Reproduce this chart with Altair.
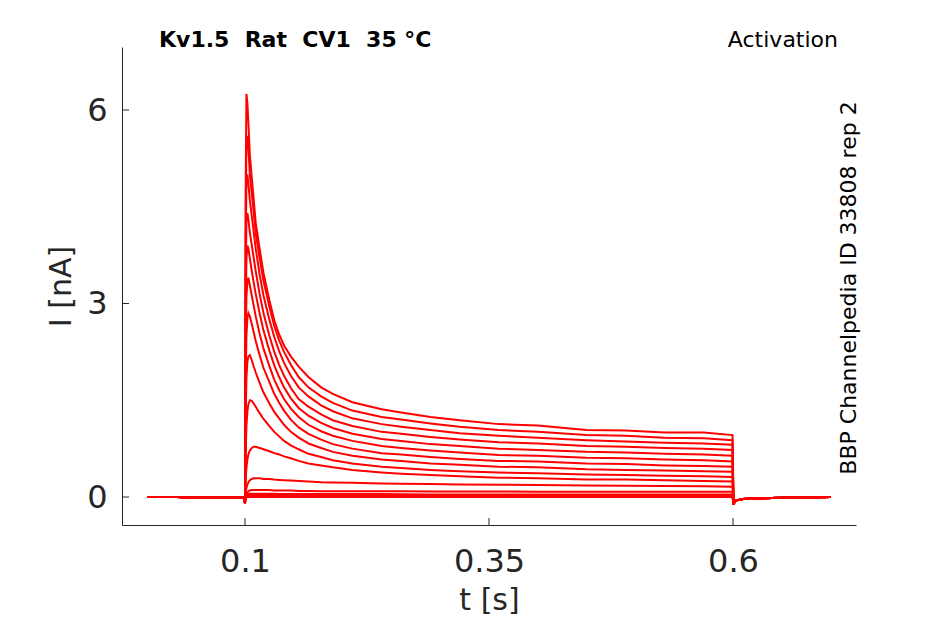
import altair as alt
import pandas as pd

# time points (s)
T = [0.0, 0.03, 0.06, 0.0995, 0.1000,
     0.1008, 0.1015, 0.1025, 0.1035, 0.105, 0.107, 0.109, 0.111, 0.115, 0.119, 0.125, 0.130,
     0.135, 0.140, 0.147, 0.155, 0.165, 0.178, 0.19, 0.21, 0.24, 0.26, 0.29, 0.32, 0.36,
     0.40, 0.45, 0.49, 0.53, 0.57, 0.5995,
     0.6005, 0.602, 0.61, 0.65, 0.70]

# current traces (nA), one list per voltage step
PRE = [0.0, 0.0, -0.01, 0.0, -0.1]
POST = [-0.12, -0.06, -0.03, -0.01, 0.0]
I00 = PRE + [5.0, 6.25, 6.1, 5.8, 5.3, 4.95, 4.6, 4.25, 3.85, 3.47, 3.05, 2.74,
             2.52, 2.35, 2.18, 2.02, 1.86, 1.70, 1.60, 1.47, 1.36, 1.31, 1.24, 1.19, 1.13, 1.11, 1.04, 1.03, 1.00, 1.00, 0.96] + POST
I01 = PRE + [4.5, 5.5, 5.6, 5.4, 5.0, 4.7, 4.4, 4.1, 3.7, 3.35, 2.95, 2.65,
             2.43, 2.25, 2.05, 1.86, 1.70, 1.56, 1.46, 1.34, 1.24, 1.20, 1.14, 1.09, 1.04, 1.01, 0.96, 0.95, 0.92, 0.91, 0.88] + POST
I02 = PRE + [4.0, 4.9, 5.0, 4.85, 4.6, 4.35, 4.1, 3.85, 3.45, 3.12, 2.75, 2.48,
             2.26, 2.08, 1.88, 1.70, 1.56, 1.42, 1.33, 1.22, 1.13, 1.09, 1.04, 0.99, 0.95, 0.92, 0.88, 0.86, 0.84, 0.83, 0.81] + POST
I03 = PRE + [3.4, 4.3, 4.4, 4.3, 4.1, 3.9, 3.7, 3.5, 3.15, 2.85, 2.5, 2.25,
             2.05, 1.88, 1.69, 1.52, 1.40, 1.28, 1.19, 1.10, 1.01, 0.98, 0.93, 0.89, 0.85, 0.83, 0.79, 0.78, 0.76, 0.75, 0.73] + POST
I04 = PRE + [2.9, 3.7, 3.9, 3.85, 3.7, 3.5, 3.32, 3.15, 2.85, 2.58, 2.27, 2.04,
             1.86, 1.70, 1.53, 1.38, 1.26, 1.15, 1.07, 0.98, 0.90, 0.87, 0.82, 0.79, 0.75, 0.73, 0.70, 0.69, 0.67, 0.66, 0.64] + POST
I05 = PRE + [2.4, 3.1, 3.35, 3.4, 3.28, 3.12, 2.96, 2.8, 2.53, 2.3, 2.03, 1.82,
             1.66, 1.52, 1.37, 1.24, 1.12, 1.02, 0.95, 0.87, 0.79, 0.76, 0.72, 0.69, 0.65, 0.64, 0.61, 0.60, 0.58, 0.57, 0.55] + POST
I06 = PRE + [1.9, 2.5, 2.78, 2.85, 2.8, 2.68, 2.55, 2.42, 2.2, 2.0, 1.78, 1.6,
             1.46, 1.34, 1.20, 1.08, 0.98, 0.89, 0.82, 0.75, 0.68, 0.66, 0.62, 0.59, 0.56, 0.55, 0.52, 0.51, 0.49, 0.48, 0.47] + POST
I07 = PRE + [1.3, 1.85, 2.1, 2.18, 2.2, 2.12, 2.02, 1.93, 1.77, 1.62, 1.45, 1.32,
             1.22, 1.12, 1.01, 0.92, 0.83, 0.76, 0.70, 0.64, 0.58, 0.56, 0.52, 0.50, 0.47, 0.46, 0.43, 0.42, 0.41, 0.40, 0.39] + POST
I08 = PRE + [0.75, 1.1, 1.33, 1.44, 1.5, 1.49, 1.45, 1.4, 1.3, 1.21, 1.1, 1.01,
             0.94, 0.87, 0.80, 0.74, 0.67, 0.62, 0.57, 0.52, 0.47, 0.45, 0.42, 0.40, 0.38, 0.37, 0.35, 0.34, 0.33, 0.32, 0.31] + POST
I09 = PRE + [0.3, 0.45, 0.58, 0.66, 0.72, 0.76, 0.78, 0.78, 0.76, 0.74, 0.71, 0.68,
             0.66, 0.63, 0.60, 0.56, 0.52, 0.49, 0.46, 0.42, 0.38, 0.36, 0.34, 0.32, 0.30, 0.29, 0.27, 0.27, 0.26, 0.25, 0.24] + POST
I10 = PRE + [0.08, 0.14, 0.19, 0.23, 0.26, 0.28, 0.29, 0.29, 0.29, 0.28, 0.28, 0.27,
             0.265, 0.26, 0.255, 0.25, 0.24, 0.23, 0.225, 0.22, 0.21, 0.205, 0.20, 0.195, 0.19, 0.185, 0.18, 0.175, 0.17, 0.165, 0.16] + POST
I11 = PRE + [0.03, 0.05, 0.07, 0.09, 0.10, 0.11, 0.11, 0.11, 0.11, 0.11, 0.11, 0.10,
             0.10, 0.10, 0.10, 0.095, 0.093, 0.09, 0.09, 0.09, 0.09, 0.088, 0.085, 0.085, 0.085, 0.083, 0.08, 0.08, 0.08, 0.08, 0.08] + POST
I12 = PRE + [0.02, 0.03, 0.04, 0.05, 0.05, 0.05, 0.05, 0.05, 0.05, 0.05, 0.05, 0.05,
             0.045, 0.045, 0.045, 0.045, 0.045, 0.045, 0.045, 0.045, 0.045, 0.043, 0.04, 0.04, 0.04, 0.04, 0.04, 0.04, 0.04, 0.04, 0.04] + POST
I13 = PRE + [0.01, 0.02, 0.025, 0.03, 0.03, 0.03, 0.03, 0.03, 0.03, 0.03, 0.03, 0.03,
             0.03, 0.03, 0.03, 0.028, 0.026, 0.025, 0.025, 0.025, 0.025, 0.025, 0.025, 0.025, 0.025, 0.022, 0.02, 0.02, 0.02, 0.02, 0.02] + POST
I14 = PRE + [0.005, 0.01, 0.012, 0.015, 0.015, 0.015, 0.015, 0.015, 0.015, 0.015, 0.015, 0.015,
             0.015, 0.015, 0.015, 0.015, 0.012, 0.012, 0.012, 0.012, 0.012, 0.012, 0.01, 0.01, 0.01, 0.01, 0.01, 0.01, 0.01, 0.01, 0.01] + POST
I15 = PRE + [0.0, 0.0, 0.0, 0.0, 0.0, 0.0, 0.0, 0.0, 0.0, 0.0, 0.0, 0.0,
             0.0, 0.0, 0.0, 0.0, 0.0, 0.0, 0.0, 0.0, 0.0, 0.0, 0.0, 0.0, 0.0, 0.0, 0.0, 0.0, 0.0, 0.0, 0.0] + POST
TRACES = [I00, I01, I02, I03, I04, I05, I06, I07, I08, I09, I10, I11, I12, I13, I14, I15]

X_TICKS = [0.1, 0.35, 0.6]
Y_TICKS = [0, 3, 6]

rows = []
for k, tr in enumerate(TRACES):
    for t, v in zip(T, tr):
        rows.append({"trace": k, "t": t, "i": v})
df = pd.DataFrame(rows)

FONT = "DejaVu Sans"
INK = "#262626"
W, H = 734, 478
NB = "\u00a0"

xscale = alt.Scale(domain=[-0.026, 0.726], nice=False, zero=False)
yscale = alt.Scale(domain=[-0.434, 6.977], nice=False, zero=False)

xaxis = alt.Axis(values=X_TICKS, format=".2~f", grid=False, ticks=False,
                 domainColor=INK, labelFont=FONT, labelFontSize=32,
                 labelColor=INK, labelPadding=21, titleFont=FONT,
                 titleFontSize=30, titleFontWeight="normal", titleColor=INK,
                 titlePadding=8)
yaxis = alt.Axis(values=Y_TICKS, format="d", grid=False, ticks=False,
                 domainColor=INK, labelFont=FONT, labelFontSize=32,
                 labelColor=INK, labelPadding=15, titleFont=FONT,
                 titleFontSize=30, titleFontWeight="normal", titleColor=INK,
                 titlePadding=10)

lines = alt.Chart(df).mark_line(color="#ff0000", strokeWidth=2).encode(
    x=alt.X("t:Q", scale=xscale, title="t [s]", axis=xaxis),
    y=alt.Y("i:Q", scale=yscale, title="I [nA]", axis=yaxis),
    detail="trace:N",
    order="t:Q",
)

xt = alt.Chart(pd.DataFrame({"t": X_TICKS})).mark_rule(color=INK, strokeWidth=1).encode(
    x=alt.X("t:Q", scale=xscale, title="t [s]", axis=xaxis),
    y=alt.value(H), y2=alt.value(H - 7))
yt = alt.Chart(pd.DataFrame({"i": Y_TICKS})).mark_rule(color=INK, strokeWidth=1).encode(
    y=alt.Y("i:Q", scale=yscale, title="I [nA]", axis=yaxis),
    x=alt.value(0), x2=alt.value(7))

one = pd.DataFrame({"a": [0]})
title = alt.Chart(one).mark_text(
    text=f"Kv1.5{NB}{NB}Rat{NB}{NB}CV1{NB}{NB}35{NB}°C", font=FONT, fontSize=22,
    fontWeight="bold", align="left", baseline="alphabetic",
    color="#000000").encode(x=alt.value(37), y=alt.value(0))
act = alt.Chart(one).mark_text(text="Activation", font=FONT, fontSize=22, align="right",
                               baseline="alphabetic", color="#000000").encode(
    x=alt.value(716), y=alt.value(0))
side = alt.Chart(one).mark_text(text="BBP Channelpedia ID 33808 rep 2", font=FONT,
                                fontSize=22, angle=270, align="center",
                                baseline="alphabetic", color="#000000").encode(
    x=alt.value(734), y=alt.value(241))

chart = alt.layer(lines, xt, yt, title, act, side).properties(
    width=W, height=H, autosize="none", background="white",
    padding={"left": 114, "top": 39, "right": 80, "bottom": 90},
).configure_view(strokeWidth=0)

chart.save("out.html", embed_options={"renderer": "svg", "actions": False})
